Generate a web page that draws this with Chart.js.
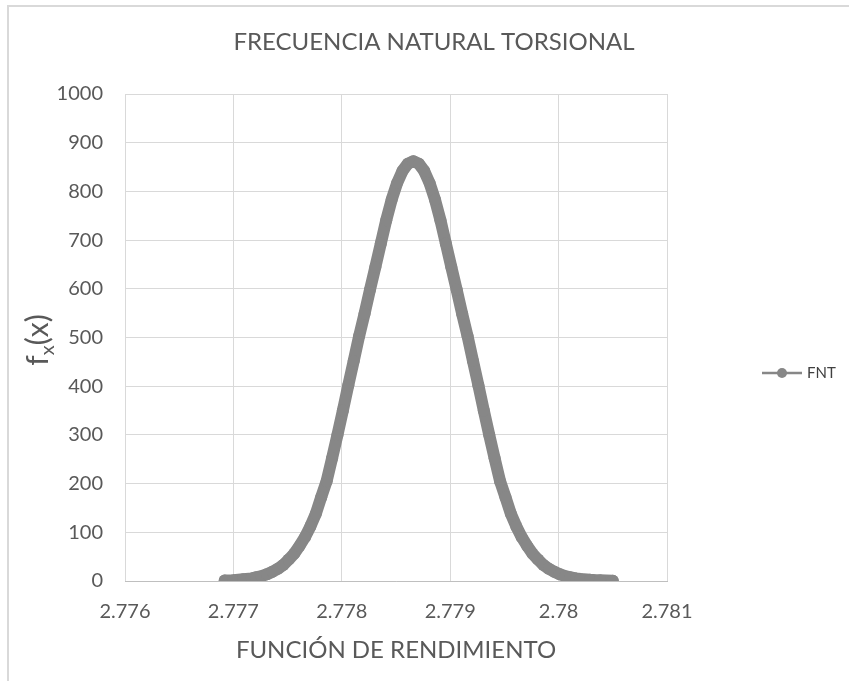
<!DOCTYPE html>
<html lang="es">
<head>
<meta charset="utf-8"/>
<title>Frecuencia natural torsional</title>
<script src="https://cdn.jsdelivr.net/npm/chart.js"></script>
<style>
    body { margin: 0; background: #fff; overflow: hidden; }
    .marco { position: absolute; left: 7px; top: 5px; width: 900px; height: 720px; border: 2px solid #d9d9d9; }
    canvas { position: absolute; left: 0; top: 0; }
</style>
</head>
<body>
<div class="marco"></div>
<canvas id="fntChart" width="849" height="681"></canvas>
<script>
    // valores (x = funcion de rendimiento, y = fx(x))
    const fntX = [
        2.77692, 2.77700, 2.77709, 2.77717, 2.77721, 2.77726, 2.77731, 2.77736, 2.77741, 2.77746,
        2.77751, 2.77756, 2.77761, 2.77766, 2.77771, 2.77776, 2.77781, 2.77786, 2.77791, 2.77796,
        2.77801, 2.77806, 2.77811, 2.77816, 2.77821, 2.77826, 2.77831, 2.77836, 2.77841, 2.77846,
        2.77851, 2.77856, 2.77861, 2.77866, 2.77871, 2.77876, 2.77881, 2.77886, 2.77891, 2.77896,
        2.77901, 2.77906, 2.77911, 2.77916, 2.77921, 2.77926, 2.77931, 2.77936, 2.77941, 2.77946,
        2.77951, 2.77956, 2.77961, 2.77966, 2.77971, 2.77976, 2.77981, 2.77986, 2.77991, 2.77996,
        2.78001, 2.78006, 2.78011, 2.78016, 2.78020, 2.78029, 2.78038, 2.78050
    ];
    const fntY = [
        0.9, 1.7, 3.4, 5.3, 7.5, 10, 14, 19, 25, 33,
        44, 56, 72, 90, 112, 138, 172, 205, 252, 300,
        350, 402, 452, 503, 549, 598, 645, 693, 741, 783,
        817, 842, 857, 862, 857, 842, 817, 783, 741, 693,
        645, 598, 549, 503, 452, 402, 350, 300, 252, 205,
        172, 138, 112, 90, 72, 56, 44, 33, 25, 19,
        14, 10, 7.5, 5.3, 4, 2.4, 1.3, 0.5
    ];
    const xTicks = [2.776, 2.777, 2.778, 2.779, 2.780, 2.781];
    const yTicks = [0, 100, 200, 300, 400, 500, 600, 700, 800, 900, 1000];

    const gris = '#878787';
    const texto = '#595959';
    const fuente = 'Lato, "Open Sans", sans-serif';

    const puntos = fntX.map((x, i) => ({ x: x, y: fntY[i] }));

    // titulo, titulo del eje y (con subindice) y leyenda
    const textos = {
        id: 'textos',
        afterDraw(chart) {
            const ctx = chart.ctx;
            ctx.save();
            ctx.fillStyle = texto;
            ctx.textBaseline = 'middle';
            ctx.textAlign = 'center';
            ctx.font = '24px ' + fuente;
            ctx.fillText('FRECUENCIA NATURAL TORSIONAL', 434, 42);

            // fx(x) girado
            ctx.save();
            ctx.translate(38, 340);
            ctx.rotate(-Math.PI / 2);
            ctx.textAlign = 'left';
            ctx.textBaseline = 'alphabetic';
            const big = '30px ' + fuente, small = '20px ' + fuente;
            ctx.font = big; const wf = ctx.measureText('f').width;
            ctx.font = small; const wx = ctx.measureText('x').width;
            ctx.font = big; const wp = ctx.measureText('(x)').width;
            let x0 = -(wf + wx + wp) / 2;
            ctx.font = big; ctx.fillText('f', x0, 10);
            ctx.font = small; ctx.fillText('x', x0 + wf, 16);
            ctx.font = big; ctx.fillText('(x)', x0 + wf + wx, 10);
            ctx.restore();

            // leyenda
            ctx.strokeStyle = gris;
            ctx.lineWidth = 2.5;
            ctx.beginPath();
            ctx.moveTo(762, 373);
            ctx.lineTo(802, 373);
            ctx.stroke();
            ctx.fillStyle = gris;
            ctx.beginPath();
            ctx.arc(782, 373, 5, 0, Math.PI * 2);
            ctx.fill();
            ctx.fillStyle = '#404040';
            ctx.textAlign = 'left';
            ctx.font = '15px ' + fuente;
            ctx.fillText('FNT', 807, 373);
            ctx.restore();
        }
    };

    new Chart(document.getElementById('fntChart'), {
        type: 'scatter',
        data: {
            datasets: [{
                label: 'FNT',
                data: puntos,
                showLine: true,
                borderColor: gris,
                backgroundColor: gris,
                borderWidth: 12,
                borderJoinStyle: 'round',
                borderCapStyle: 'round',
                pointRadius: 6,
                pointBorderWidth: 0,
                pointBackgroundColor: gris
            }]
        },
        options: {
            responsive: false,
            animation: false,
            layout: { padding: { top: 94, right: 182, left: 0, bottom: 0 } },
            plugins: {
                legend: { display: false },
                title: { display: false },
                tooltip: { enabled: false }
            },
            scales: {
                x: {
                    type: 'linear',
                    min: xTicks[0],
                    max: xTicks[xTicks.length - 1],
                    afterBuildTicks: s => { s.ticks = xTicks.map(v => ({ value: v })); },
                    afterFit: s => { s.height = 100; },
                    ticks: {
                        color: texto,
                        font: { family: fuente, size: 20 },
                        padding: 19,
                        maxRotation: 0,
                        callback: v => parseFloat(Number(v).toFixed(3)).toString()
                    },
                    grid: { color: '#d9d9d9', drawTicks: false },
                    border: { color: '#bfbfbf' },
                    title: {
                        display: true,
                        text: 'FUNCIÓN DE RENDIMIENTO',
                        color: texto,
                        font: { family: fuente, size: 24 },
                        padding: { top: 0, bottom: 16 }
                    }
                },
                y: {
                    min: 0,
                    max: 1000,
                    afterBuildTicks: s => { s.ticks = yTicks.map(v => ({ value: v })); },
                    afterFit: s => { s.width = 125; },
                    ticks: {
                        color: texto,
                        font: { family: fuente, size: 20 },
                        padding: 22,
                        callback: v => String(v)
                    },
                    grid: { color: '#d9d9d9', drawTicks: false },
                    border: { display: false }
                }
            }
        },
        plugins: [textos]
    });
</script>
</body>
</html>
